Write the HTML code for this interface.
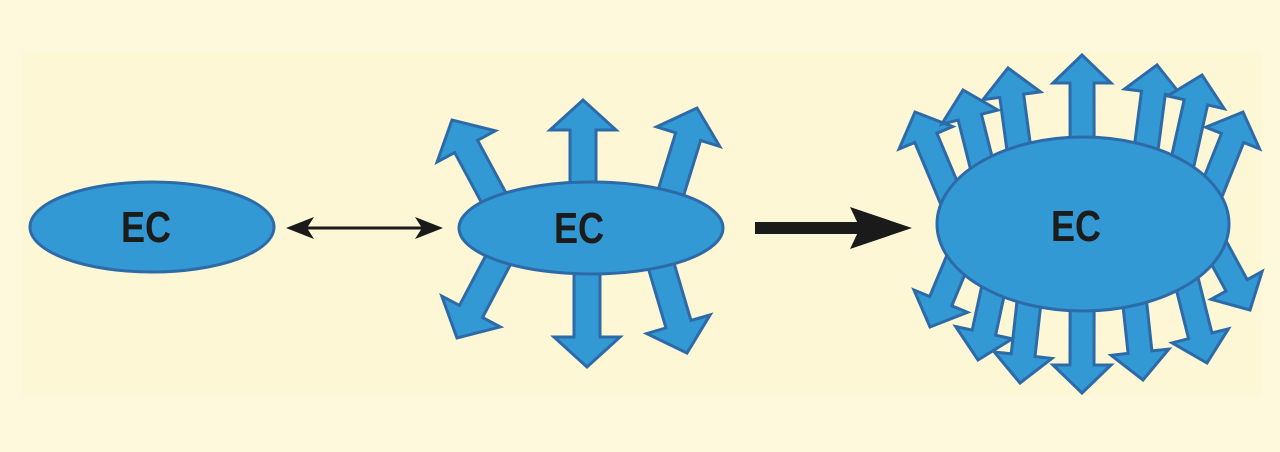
<!DOCTYPE html>
<html><head><meta charset="utf-8"><style>
html,body{margin:0;padding:0;background:#fef9dc;}
svg{display:block}
text{font-family:"Liberation Sans",sans-serif;font-weight:bold;fill:#1c1c1c}
</style></head><body>
<svg id="s" width="1280" height="452" viewBox="0 0 1280 452" xmlns="http://www.w3.org/2000/svg">
<rect x="0" y="0" width="1280" height="452" fill="#fef9dc"/>
<rect x="22" y="52" width="1240" height="343" fill="#fdf7d6"/>
<g id="arrows"></g>
<ellipse cx="152" cy="227" rx="122" ry="45" fill="#3399d4" stroke="#2d6aa8" stroke-width="3"/>
<text transform="translate(146,242) scale(0.82,1)" font-size="44" text-anchor="middle">EC</text>
<ellipse cx="591" cy="228" rx="132" ry="46" fill="#3399d4" stroke="#2d6aa8" stroke-width="3"/>
<text transform="translate(579,243) scale(0.82,1)" font-size="44" text-anchor="middle">EC</text>
<ellipse cx="1083" cy="224" rx="146" ry="87" fill="#3399d4" stroke="#2d6aa8" stroke-width="3"/>
<text transform="translate(1076,241) scale(0.82,1)" font-size="44" text-anchor="middle">EC</text>
<line x1="300" y1="228" x2="430" y2="228" stroke="#1a1a1a" stroke-width="3"/>
<polygon points="286,228 314,217 307,228 314,239" fill="#1a1a1a"/>
<polygon points="443,228 415,217 422,228 415,239" fill="#1a1a1a"/>
<rect x="755" y="222" width="105" height="12" fill="#1a1a1a"/>
<polygon points="850,207 912,228 850,249 860,228" fill="#1a1a1a"/>
</svg>
<script>
var g=document.getElementById('arrows');
function arrow(bx,by,tx,ty,sw,hw,hl){
  var dx=tx-bx,dy=ty-by,L=Math.hypot(dx,dy),ux=dx/L,uy=dy/L,px=-uy,py=ux;
  var pts=[[-sw,0],[-sw,L-hl],[-hw,L-hl],[0,L],[hw,L-hl],[sw,L-hl],[sw,0]];
  var s=pts.map(function(p){return (bx+ux*p[1]+px*p[0]).toFixed(1)+','+(by+uy*p[1]+py*p[0]).toFixed(1)}).join(' ');
  var e=document.createElementNS('http://www.w3.org/2000/svg','polygon');
  e.setAttribute('points',s);e.setAttribute('fill','#3399d4');e.setAttribute('stroke','#2d6aa8');e.setAttribute('stroke-width','3');
  g.appendChild(e);
}
[[583,228,583,100],[510,228,452,120],[660,228,697,108],[587,228,587,367],[515,228,457,338],[650,228,687,353]].forEach(function(a){arrow(a[0],a[1],a[2],a[3],13,33,30)});
var cx=1083,cy=224;
[[915,112],[963,90],[1008,68],[1082,55],[1157,65],[1202,75],[1243,112],
 [930,327],[978,360],[1020,383],[1082,393],[1143,380],[1207,363],[1250,310]].forEach(function(t){
  arrow(cx+(t[0]-cx)*0.72,cy,t[0],t[1],12,29,28);
});
</script>
</body></html>
